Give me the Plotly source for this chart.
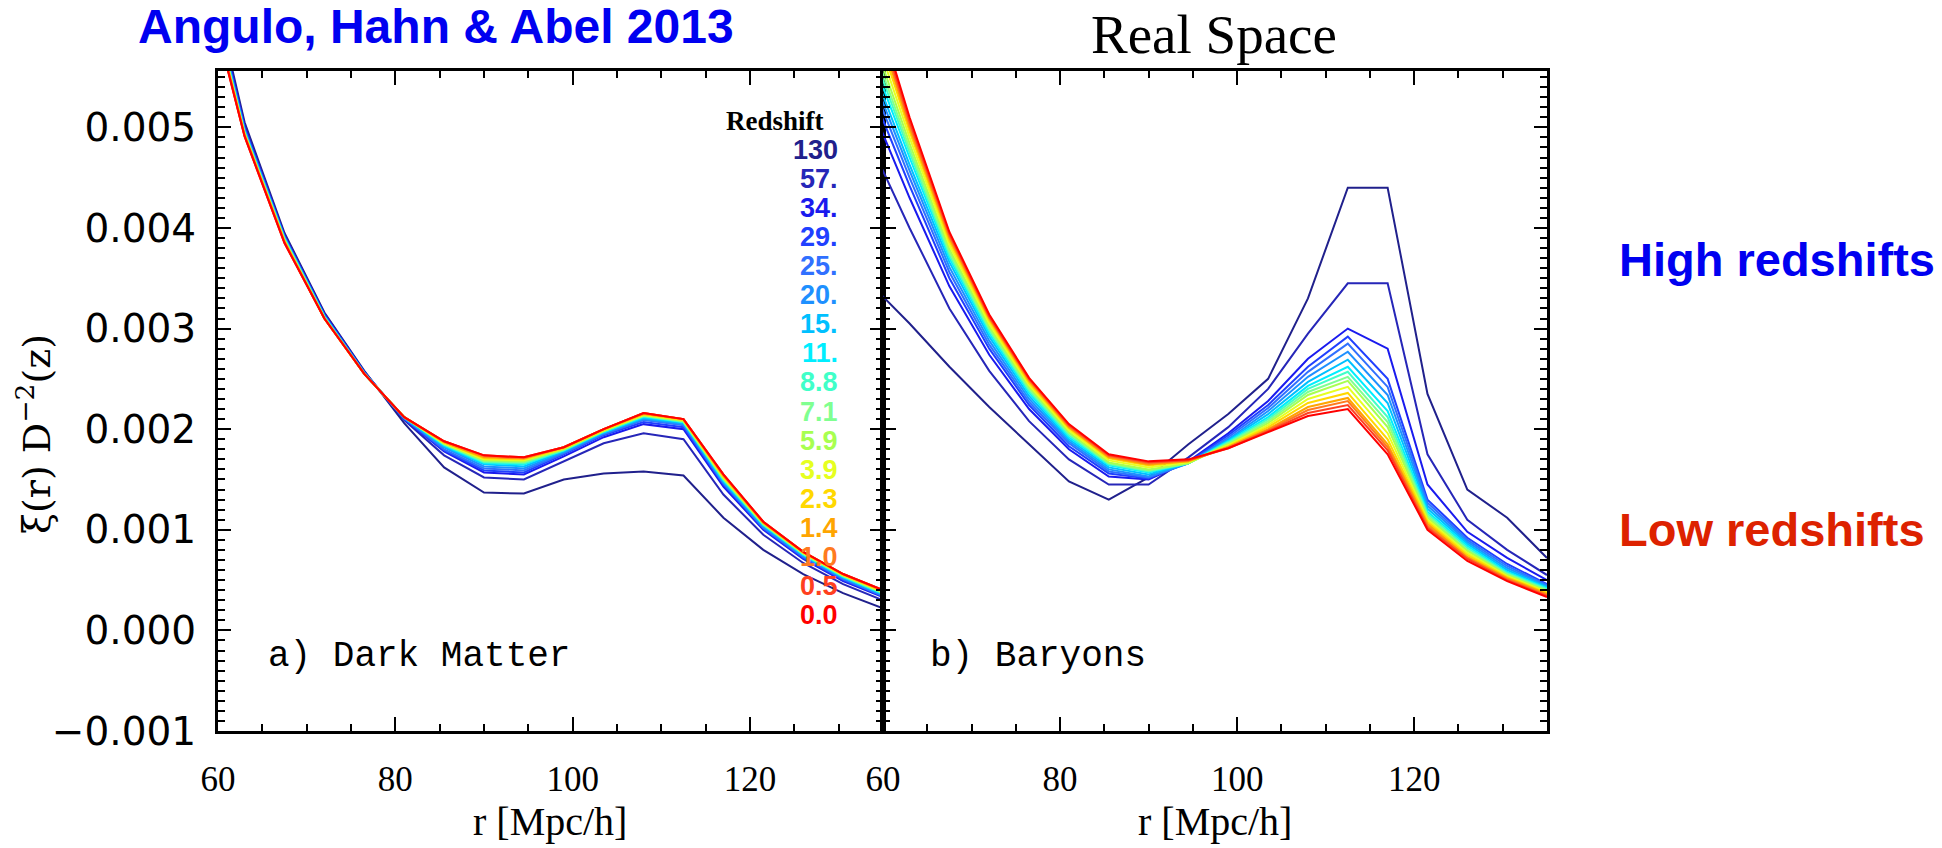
import plotly.graph_objects as go

# Separation bins [Mpc/h]
r_mpc = [58.5, 63, 67.5, 72, 76.5, 81, 85.5, 90, 94.5, 99, 103.5, 108, 112.5, 117,
         121.5, 126, 130.5, 135]

redshift_labels = ["130", "57.", "34.", "29.", "25.", "20.", "15.", "11.", "8.8",
                   "7.1", "5.9", "3.9", "2.3", "1.4", "1.0", "0.5", "0.0"]

line_colors = ["#20208c", "#2626b8", "#1a1aee", "#2040ff", "#3070ff", "#1e90ff",
               "#00c0ff", "#00eeff", "#40ffc8", "#80ff90", "#a8ff50", "#e6ff20",
               "#ffd800", "#ffa500", "#ff7a20", "#ff4020", "#ff0000"]

# xi(r) D^-2(z), in units of 1e-3, one row per redshift (same order as labels)
xi_dark_matter = [
    [6.75, 5.05, 3.95, 3.16, 2.58, 2.06, 1.62, 1.37, 1.36, 1.50, 1.56, 1.58, 1.54, 1.12, 0.80, 0.56, 0.37, 0.22],
    [6.70, 5.02, 3.93, 3.15, 2.57, 2.09, 1.74, 1.52, 1.50, 1.68, 1.86, 1.96, 1.90, 1.35, 0.95, 0.67, 0.46, 0.30],
    [6.66, 5.00, 3.92, 3.14, 2.57, 2.10, 1.78, 1.57, 1.55, 1.73, 1.92, 2.05, 2.00, 1.43, 1.00, 0.71, 0.49, 0.33],
    [6.64, 4.99, 3.91, 3.13, 2.56, 2.10, 1.79, 1.59, 1.57, 1.75, 1.94, 2.07, 2.02, 1.45, 1.01, 0.72, 0.50, 0.34],
    [6.62, 4.98, 3.91, 3.13, 2.56, 2.11, 1.80, 1.61, 1.59, 1.76, 1.95, 2.09, 2.04, 1.46, 1.02, 0.73, 0.51, 0.34],
    [6.60, 4.97, 3.90, 3.12, 2.56, 2.11, 1.82, 1.63, 1.61, 1.77, 1.96, 2.10, 2.05, 1.47, 1.03, 0.74, 0.52, 0.35],
    [6.58, 4.96, 3.90, 3.12, 2.56, 2.11, 1.83, 1.65, 1.63, 1.78, 1.97, 2.11, 2.06, 1.48, 1.04, 0.75, 0.53, 0.36],
    [6.56, 4.95, 3.89, 3.12, 2.55, 2.12, 1.84, 1.66, 1.65, 1.79, 1.97, 2.12, 2.07, 1.49, 1.05, 0.75, 0.53, 0.36],
    [6.55, 4.95, 3.89, 3.11, 2.55, 2.12, 1.85, 1.67, 1.66, 1.79, 1.98, 2.13, 2.07, 1.50, 1.05, 0.76, 0.54, 0.37],
    [6.54, 4.94, 3.88, 3.11, 2.55, 2.12, 1.85, 1.68, 1.67, 1.80, 1.98, 2.13, 2.08, 1.51, 1.06, 0.76, 0.54, 0.37],
    [6.53, 4.94, 3.88, 3.11, 2.55, 2.12, 1.86, 1.69, 1.68, 1.80, 1.98, 2.14, 2.08, 1.51, 1.06, 0.77, 0.55, 0.38],
    [6.52, 4.93, 3.87, 3.10, 2.55, 2.12, 1.86, 1.70, 1.69, 1.81, 1.99, 2.14, 2.09, 1.52, 1.07, 0.77, 0.55, 0.38],
    [6.51, 4.93, 3.87, 3.10, 2.55, 2.12, 1.87, 1.71, 1.70, 1.81, 1.99, 2.15, 2.09, 1.53, 1.07, 0.77, 0.55, 0.39],
    [6.50, 4.92, 3.86, 3.10, 2.55, 2.12, 1.87, 1.72, 1.71, 1.82, 2.00, 2.15, 2.10, 1.54, 1.07, 0.78, 0.56, 0.39],
    [6.49, 4.92, 3.86, 3.10, 2.55, 2.12, 1.88, 1.73, 1.71, 1.82, 2.00, 2.16, 2.10, 1.54, 1.08, 0.78, 0.56, 0.40],
    [6.48, 4.91, 3.85, 3.10, 2.55, 2.12, 1.88, 1.74, 1.72, 1.82, 2.00, 2.16, 2.10, 1.55, 1.08, 0.78, 0.56, 0.40],
    [6.47, 4.91, 3.85, 3.10, 2.55, 2.12, 1.88, 1.74, 1.72, 1.82, 2.00, 2.16, 2.10, 1.55, 1.08, 0.78, 0.56, 0.40],
]

xi_baryons = [
    [3.45, 3.05, 2.62, 2.22, 1.85, 1.48, 1.30, 1.52, 1.85, 2.15, 2.50, 3.30, 4.40, 4.40, 2.35, 1.40, 1.12, 0.72],
    [4.85, 4.00, 3.20, 2.58, 2.08, 1.70, 1.45, 1.45, 1.72, 2.02, 2.40, 2.95, 3.45, 3.45, 1.75, 1.10, 0.80, 0.55],
    [5.25, 4.30, 3.42, 2.74, 2.20, 1.80, 1.53, 1.50, 1.68, 1.96, 2.28, 2.70, 3.00, 2.80, 1.45, 0.98, 0.72, 0.50],
    [5.40, 4.42, 3.50, 2.80, 2.24, 1.83, 1.56, 1.51, 1.67, 1.94, 2.24, 2.62, 2.92, 2.50, 1.30, 0.92, 0.66, 0.46],
    [5.50, 4.50, 3.56, 2.84, 2.27, 1.86, 1.58, 1.52, 1.66, 1.92, 2.21, 2.57, 2.85, 2.42, 1.27, 0.90, 0.64, 0.45],
    [5.58, 4.57, 3.61, 2.88, 2.30, 1.88, 1.60, 1.53, 1.66, 1.90, 2.18, 2.52, 2.77, 2.34, 1.24, 0.88, 0.62, 0.44],
    [5.66, 4.63, 3.66, 2.92, 2.33, 1.90, 1.62, 1.55, 1.66, 1.89, 2.15, 2.47, 2.69, 2.26, 1.21, 0.86, 0.60, 0.43],
    [5.75, 4.70, 3.70, 2.95, 2.36, 1.92, 1.64, 1.57, 1.66, 1.88, 2.12, 2.43, 2.62, 2.18, 1.18, 0.84, 0.58, 0.42],
    [5.83, 4.75, 3.73, 2.98, 2.38, 1.94, 1.65, 1.58, 1.66, 1.87, 2.10, 2.40, 2.57, 2.12, 1.16, 0.82, 0.57, 0.41],
    [5.90, 4.79, 3.76, 3.00, 2.40, 1.96, 1.66, 1.59, 1.66, 1.86, 2.08, 2.37, 2.52, 2.07, 1.14, 0.80, 0.56, 0.40],
    [5.98, 4.84, 3.79, 3.02, 2.42, 1.97, 1.67, 1.60, 1.66, 1.85, 2.06, 2.34, 2.48, 2.02, 1.12, 0.79, 0.55, 0.39],
    [6.08, 4.90, 3.83, 3.05, 2.44, 1.99, 1.69, 1.62, 1.67, 1.84, 2.04, 2.30, 2.42, 1.96, 1.10, 0.77, 0.54, 0.38],
    [6.18, 4.96, 3.87, 3.08, 2.46, 2.01, 1.71, 1.64, 1.68, 1.83, 2.02, 2.26, 2.36, 1.90, 1.08, 0.75, 0.53, 0.37],
    [6.26, 5.00, 3.90, 3.10, 2.48, 2.02, 1.72, 1.65, 1.68, 1.82, 2.00, 2.22, 2.31, 1.85, 1.06, 0.73, 0.52, 0.36],
    [6.30, 5.03, 3.92, 3.11, 2.49, 2.03, 1.73, 1.66, 1.69, 1.82, 1.99, 2.19, 2.28, 1.82, 1.04, 0.72, 0.51, 0.35],
    [6.35, 5.06, 3.94, 3.12, 2.50, 2.04, 1.74, 1.67, 1.69, 1.81, 1.98, 2.16, 2.24, 1.79, 1.02, 0.71, 0.50, 0.34],
    [6.40, 5.10, 3.96, 3.14, 2.51, 2.05, 1.75, 1.68, 1.70, 1.81, 1.97, 2.13, 2.20, 1.75, 1.00, 0.69, 0.49, 0.33],
]

x_ticks = [60, 80, 100, 120]
y_range = [-0.001, 0.00556]
x_range = [60, 135]

W, H = 1942, 848


def fx(px):
    return px / W


def fy(py):
    return 1 - py / H


fig = go.Figure()

for label, color, dm_row, b_row in zip(redshift_labels, line_colors, xi_dark_matter, xi_baryons):
    fig.add_trace(go.Scatter(x=r_mpc, y=[v * 1e-3 for v in dm_row], mode="lines",
                             line=dict(color=color, width=2), xaxis="x", yaxis="y",
                             name=label, showlegend=False, hoverinfo="skip"))
    fig.add_trace(go.Scatter(x=r_mpc, y=[v * 1e-3 for v in b_row], mode="lines",
                             line=dict(color=color, width=2), xaxis="x2", yaxis="y2",
                             name=label, showlegend=False, hoverinfo="skip"))

tick_style = dict(tickwidth=2, tickcolor="black", showgrid=False, zeroline=False,
                  automargin=False, showline=True, linecolor="black", linewidth=3)

x_common = dict(
    range=x_range, mirror="allticks", ticks="inside", ticklen=14,
    tickmode="array", tickvals=x_ticks,
    minor=dict(ticks="inside", ticklen=7, tickwidth=2, tickcolor="black", dtick=5, tick0=60),
    tickfont=dict(family="Liberation Serif", size=35, color="black"),
    ticklabelstandoff=15, **tick_style,
)
y_common = dict(
    range=y_range, domain=[fy(731), fy(71)], mirror="allticks", ticks="inside", ticklen=13,
    tick0=0, dtick=0.001, tickformat=".3f",
    minor=dict(ticks="inside", ticklen=7, tickwidth=2, tickcolor="black", dtick=0.0001, tick0=0),
    tickfont=dict(family="DejaVu Sans", size=39, color="black"),
    ticklabelstandoff=11, **tick_style,
)

fig.update_layout(
    width=W, height=H, margin=dict(l=0, r=0, t=0, b=0),
    paper_bgcolor="white", plot_bgcolor="white", showlegend=False,
    xaxis=dict(domain=[fx(218), fx(883)], anchor="y", **x_common),
    yaxis=dict(anchor="x", **y_common),
    xaxis2=dict(domain=[fx(883), fx(1547)], anchor="y2", **x_common),
    yaxis2=dict(anchor="x2", showticklabels=False, **y_common),
    # next panel, only its edge is visible
    xaxis3=dict(domain=[fx(1547), fx(1620)], anchor="y3", range=[60, 68], mirror=False,
                ticks="inside", ticklen=14, tickmode="array", tickvals=[60],
                tickfont=dict(family="Liberation Serif", size=35, color="black"),
                ticklabelstandoff=15, **tick_style),
    yaxis3=dict(domain=[fy(731), fy(71)], anchor="x3", range=y_range, mirror=False,
                ticks="inside", ticklen=13, tick0=0, dtick=0.001, showticklabels=False,
                minor=dict(ticks="inside", ticklen=7, tickwidth=2, tickcolor="black",
                           dtick=0.0001, tick0=0),
                **tick_style),
)

# crop edge of the figure strip
fig.add_shape(type="rect", xref="paper", yref="paper", x0=fx(1557), x1=1.0, y0=0, y1=1,
              fillcolor="white", line=dict(width=0), layer="above")

ann = []


def text(x, y, s, size, family, color="black", xanchor="center", yanchor="middle", **kw):
    ann.append(dict(x=fx(x), y=fy(y), xref="paper", yref="paper", text=s, showarrow=False,
                    xanchor=xanchor, yanchor=yanchor,
                    font=dict(size=size, family=family, color=color), **kw))


text(136, 27, "<b>Angulo, Hahn & Abel 2013</b>", 48, "Liberation Sans", "#0000f0", xanchor="left")
text(1617, 259, "<b>High redshifts</b>", 47, "Liberation Sans", "#0000f0", xanchor="left")
text(1617, 529, "<b>Low redshifts</b>", 47, "Liberation Sans", "#dd2200", xanchor="left")
text(1214, 34, "Real Space", 55, "Liberation Serif")
text(34, 434, "ξ(r) D<sup>−2</sup>(z)", 38, "DejaVu Serif", textangle=-90)
text(550, 821, "r [Mpc/h]", 40, "Liberation Serif")
text(1215, 821, "r [Mpc/h]", 40, "Liberation Serif")
text(266, 656, "a) Dark Matter", 36, "Liberation Mono", xanchor="left")
text(928, 656, "b) Baryons", 36, "Liberation Mono", xanchor="left")

# redshift key
text(775, 121, "<b>Redshift</b>", 27, "Liberation Serif")
for i, (label, color) in enumerate(zip(redshift_labels, line_colors)):
    text(840, 150 + i * 29.06, "<b>" + label + "</b>", 27, "Liberation Sans", color, xanchor="right")

fig.update_layout(annotations=ann)

fig.write_html("out.html")
